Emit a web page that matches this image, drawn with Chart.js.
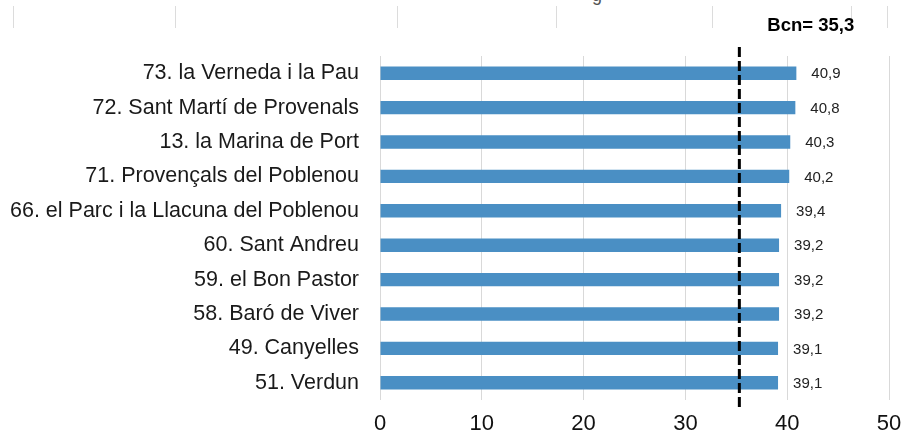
<!DOCTYPE html>
<html>
<head>
<meta charset="utf-8">
<script src="https://cdn.jsdelivr.net/npm/chart.js@4.4.1/dist/chart.umd.min.js"></script>
<style>
  html, body { margin: 0; padding: 0; background: #fff; }
  #wrap { position: relative; width: 905px; height: 433px; overflow: hidden; }
  canvas { position: absolute; left: 0; top: 0; z-index: 2; }
  .tira { position: absolute; top: 6px; width: 1px; height: 22px; background: #dcdcdc; z-index: 1; }
  #resto { position: absolute; left: 592px; top: -15px; font: 18px "Liberation Sans", Arial, sans-serif; color: #555; z-index: 1; }
</style>
</head>
<body>
<div id="wrap">
  <div class="tira" style="left:13px"></div>
  <div class="tira" style="left:175px"></div>
  <div class="tira" style="left:397px"></div>
  <div class="tira" style="left:556px"></div>
  <div class="tira" style="left:712px"></div>
  <div class="tira" style="left:851px"></div>
  <div class="tira" style="left:887px"></div>
  <span id="resto">g</span>
  <canvas id="grafico" width="905" height="433"></canvas>
</div>
<script>
const barris = [
    '73. la Verneda i la Pau',
    '72. Sant Martí de Provenals',
    '13. la Marina de Port',
    '71. Provençals del Poblenou',
    '66. el Parc i la Llacuna del Poblenou',
    '60. Sant Andreu',
    '59. el Bon Pastor',
    '58. Baró de Viver',
    '49. Canyelles',
    '51. Verdun'
]
const valors = [40.9, 40.8, 40.3, 40.2, 39.4, 39.2, 39.2, 39.2, 39.1, 39.1]
const ticksX = [0, 10, 20, 30, 40, 50]
const mitjanaBcn = 35.3
const etiquetaBcn = 'Bcn= 35,3'

const fontBase = '"Liberation Sans", Arial, sans-serif'

function formatar(v){
    return v.toFixed(1).replace('.', ',')
}

// valors al final de cada barra + linia discontinua de Barcelona
const extres = {
    id: 'extres',
    afterDatasetsDraw(chart){
        const ctx = chart.ctx
        const x = chart.scales.x
        const meta = chart.getDatasetMeta(0)

        ctx.save()
        ctx.font = '15px ' + fontBase
        ctx.fillStyle = '#222'
        ctx.textAlign = 'left'
        ctx.textBaseline = 'middle'
        meta.data.forEach((bar, i) => {
            ctx.fillText(formatar(valors[i]), bar.x + 15, bar.y + 1)
        })

        const xm = x.getPixelForValue(mitjanaBcn)
        const area = chart.chartArea
        ctx.strokeStyle = '#000'
        ctx.lineWidth = 3
        ctx.setLineDash([10, 4])
        ctx.beginPath()
        ctx.moveTo(xm, area.top - 9)
        ctx.lineTo(xm, area.bottom + 11)
        ctx.stroke()

        ctx.setLineDash([])
        ctx.font = 'bold 18.5px ' + fontBase
        ctx.fillStyle = '#000'
        ctx.fillText(etiquetaBcn, xm + 28, area.top - 30)
        ctx.restore()
    }
}

new Chart(document.getElementById('grafico'), {
    type: 'bar',
    data: {
        labels: barris,
        datasets: [{
            data: valors,
            backgroundColor: '#4A8FC4',
            borderWidth: 0,
            barPercentage: 0.39,
            categoryPercentage: 1
        }]
    },
    options: {
        indexAxis: 'y',
        responsive: false,
        animation: false,
        layout: { padding: { top: 56, right: 16, left: 0, bottom: 0 } },
        plugins: {
            legend: { display: false },
            tooltip: { enabled: false }
        },
        scales: {
            x: {
                min: 0,
                max: 50,
                afterBuildTicks: scale => {
                    scale.ticks = ticksX.map(v => ({ value: v }))
                },
                afterFit: scale => {
                    scale.height = 33
                    scale.paddingLeft = 0
                    scale.paddingRight = 0
                },
                grid: { color: '#d9d9d9', lineWidth: 1, drawTicks: false },
                border: { display: false },
                ticks: {
                    color: '#111',
                    padding: 11,
                    font: { family: fontBase, size: 22 }
                }
            },
            y: {
                afterFit: scale => { scale.width = 380 },
                grid: { display: false },
                border: { display: false },
                ticks: {
                    color: '#1a1a1a',
                    padding: 13,
                    font: { family: fontBase, size: 21.5 }
                }
            }
        }
    },
    plugins: [extres]
})
</script>
</body>
</html>
